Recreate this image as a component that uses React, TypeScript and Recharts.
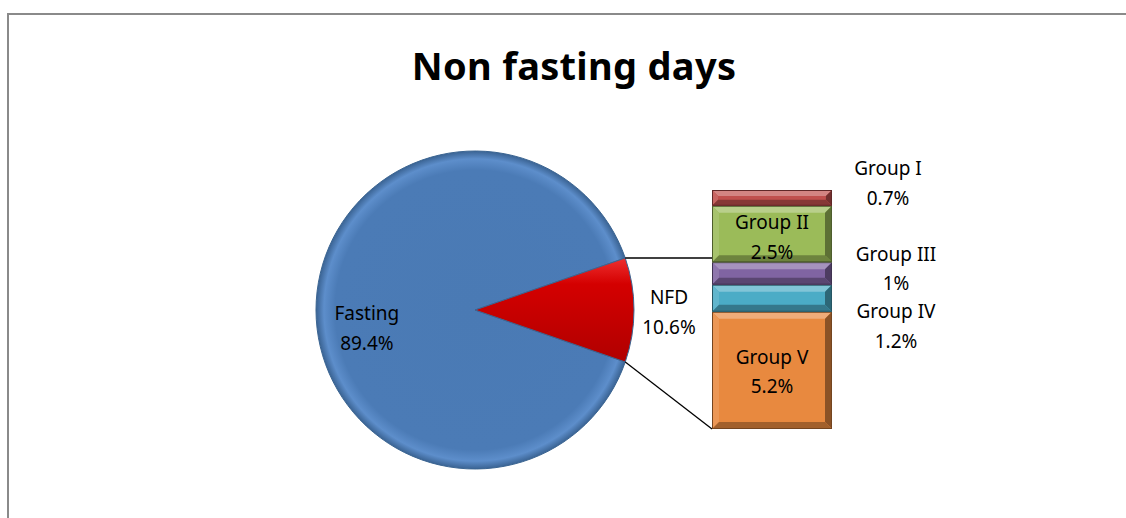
import React from "react";
import { PieChart, Pie, Cell, BarChart, Bar, XAxis, YAxis, LabelList } from "recharts";

const pieNames = ["Fasting", "NFD"];
const pieValues = [89.4, 10.6];
const groupNames = ["Group I", "Group II", "Group III", "Group IV", "Group V"];
const groupValues = [0.7, 2.5, 1, 1.2, 5.2];

const pieColors = ["url(#blueFill)", "url(#redFill)"];
const groupColors = ["#c0504d", "#9bbb59", "#8064a2", "#4bacc6", "#e8893f"];
// where each group's label sits: inside the bar or to its right
const groupLabelPos = [
  { inside: false, dx: 56, dy: -19 },
  { inside: true, dx: 0, dy: -1 },
  { inside: false, dx: 64, dy: -9 },
  { inside: false, dx: 64, dy: 24 },
  { inside: true, dx: 0, dy: -3 },
];

const W = 1126;
const H = 518;
const FONT = "'Noto Sans', 'Open Sans', sans-serif";
const PIE_CX = 475;
const PIE_CY = 310;
const PIE_R = 159;
const BAR_LEFT = 712;
const BAR_RIGHT = 832;
const BAR_TOP = 190;
const BAR_BOTTOM = 429;

const pieData = pieNames.map((name, i) => ({ name, value: pieValues[i] }));
const nfdTotal = pieValues[1];
const halfNfd = (nfdTotal / pieValues.reduce((a, b) => a + b, 0)) * 180;

const barRow: any = { name: "NFD" };
groupNames.forEach((n, i) => (barRow[n] = groupValues[i]));
const barData = [barRow];

const RAD = Math.PI / 180;
const polar = (cx: number, cy: number, r: number, a: number) => ({
  x: cx + r * Math.cos(-a * RAD),
  y: cy + r * Math.sin(-a * RAD),
});

const shade = (hex: string, f: number) => {
  const n = parseInt(hex.slice(1), 16);
  const c = [(n >> 16) & 255, (n >> 8) & 255, n & 255].map((v) =>
    Math.round(f > 0 ? v + (255 - v) * f : v * (1 + f))
  );
  return `rgb(${c[0]},${c[1]},${c[2]})`;
};

const PieLabel = (props: any) => {
  const { cx, cy, outerRadius, midAngle, startAngle, endAngle, name, value } = props;
  const isNfd = name === "NFD";
  const r = isNfd ? outerRadius + 35 : outerRadius * 0.68;
  const p = polar(cx, cy, r, midAngle);
  const y = isNfd ? p.y - 2 : p.y + 14;
  let lines = null;
  if (isNfd) {
    const top = polar(cx, cy, outerRadius, endAngle);
    const bot = polar(cx, cy, outerRadius, startAngle);
    lines = (
      <g stroke="#000" strokeWidth={1.3}>
        <line x1={top.x} y1={top.y} x2={BAR_LEFT} y2={top.y} />
        <line x1={bot.x} y1={bot.y} x2={BAR_LEFT} y2={BAR_BOTTOM} />
      </g>
    );
  }
  return (
    <g>
      {lines}
      <text x={p.x} y={y} textAnchor="middle" fontFamily={FONT} fontSize={19} fill="#000">
        <tspan x={p.x} dy="-0.2em">{name}</tspan>
        <tspan x={p.x} dy="1.55em">{value}%</tspan>
      </text>
    </g>
  );
};

const makeBarLabel = (i: number) => (props: any) => {
  const { x, y, width, height } = props;
  const pos = groupLabelPos[i];
  const tx = pos.inside ? x + width / 2 : x + width + pos.dx;
  const ty = y + height / 2 + pos.dy;
  return (
    <text x={tx} y={ty} textAnchor="middle" fontFamily={FONT} fontSize={19} fill="#000">
      <tspan x={tx} dy="-0.2em">{groupNames[i]}</tspan>
      <tspan x={tx} dy="1.55em">{groupValues[i]}%</tspan>
    </text>
  );
};

// bevelled block like the Office "soft bevel" effect
const makeBevelBar = (i: number) => (props: any) => {
  const { x, y, width: w, height: h } = props;
  if (!h || h <= 0) return <g />;
  const c = groupColors[i];
  const b = Math.min(7, h / 2.6);
  return (
    <g>
      <rect x={x} y={y} width={w} height={h} fill={c} />
      <polygon points={`${x},${y} ${x + w},${y} ${x + w - b},${y + b} ${x + b},${y + b}`} fill={shade(c, 0.3)} />
      <polygon points={`${x},${y} ${x + b},${y + b} ${x + b},${y + h - b} ${x},${y + h}`} fill={shade(c, 0.12)} />
      <polygon points={`${x + w},${y} ${x + w},${y + h} ${x + w - b},${y + h - b} ${x + w - b},${y + b}`} fill={shade(c, -0.4)} />
      <polygon points={`${x},${y + h} ${x + w},${y + h} ${x + w - b},${y + h - b} ${x + b},${y + h - b}`} fill={shade(c, -0.3)} />
      <rect x={x + 0.5} y={y + 0.5} width={w - 1} height={h - 1} fill="none" stroke={shade(c, -0.5)} strokeWidth={1} />
    </g>
  );
};

export default function App() {
  return (
    <div style={{ position: "fixed", left: 0, top: 0, width: W, height: H, background: "#fff", overflow: "hidden" }}>
      <div
        style={{
          position: "absolute",
          left: 7,
          top: 13,
          width: 1300,
          height: 700,
          border: "2px solid #8a8a8a",
          boxSizing: "border-box",
        }}
      />
      <div
        style={{
          position: "absolute",
          left: 0,
          width: 1148,
          top: 39,
          textAlign: "center",
          fontFamily: FONT,
          fontWeight: 700,
          fontSize: 38,
          letterSpacing: 0.3,
          color: "#000",
        }}
      >
        Non fasting days
      </div>
      <div style={{ position: "absolute", left: 0, top: 0 }}>
        <PieChart width={W} height={H} margin={{ top: 0, right: 0, bottom: 0, left: 0 }}>
          <defs>
            <radialGradient id="blueFill" gradientUnits="userSpaceOnUse" cx={PIE_CX} cy={PIE_CY} r={PIE_R}>
              <stop offset="0%" stopColor="#4a7ab4" />
              <stop offset="88%" stopColor="#4b7bb6" />
              <stop offset="95%" stopColor="#5d8ecb" />
              <stop offset="100%" stopColor="#3a6393" />
            </radialGradient>
            <linearGradient id="redFill" x1="0" y1="0" x2="0" y2="1">
              <stop offset="0%" stopColor="#ee3030" />
              <stop offset="25%" stopColor="#d40000" />
              <stop offset="100%" stopColor="#b00000" />
            </linearGradient>
          </defs>
          <Pie
            data={pieData}
            dataKey="value"
            nameKey="name"
            cx={PIE_CX}
            cy={PIE_CY}
            outerRadius={PIE_R}
            startAngle={halfNfd}
            endAngle={halfNfd + 360}
            stroke="#3b6592"
            strokeWidth={1}
            label={PieLabel}
            labelLine={false}
            isAnimationActive={false}
          >
            {pieData.map((d, i) => (
              <Cell key={d.name} fill={pieColors[i]} />
            ))}
          </Pie>
        </PieChart>
      </div>
      <div style={{ position: "absolute", left: 0, top: 0 }}>
        <BarChart
          width={W}
          height={H}
          data={barData}
          barCategoryGap={0}
          margin={{ top: BAR_TOP, bottom: H - BAR_BOTTOM, left: BAR_LEFT, right: W - BAR_RIGHT }}
        >
          <XAxis dataKey="name" hide />
          <YAxis hide domain={[0, nfdTotal]} />
          {groupNames
            .map((n, i) => (
              <Bar
                key={n}
                dataKey={n}
                stackId="nfd"
                fill={groupColors[i]}
                shape={makeBevelBar(i)}
                isAnimationActive={false}
              >
                <LabelList dataKey={n} content={makeBarLabel(i)} />
              </Bar>
            ))
            .reverse()}
        </BarChart>
      </div>
    </div>
  );
}
